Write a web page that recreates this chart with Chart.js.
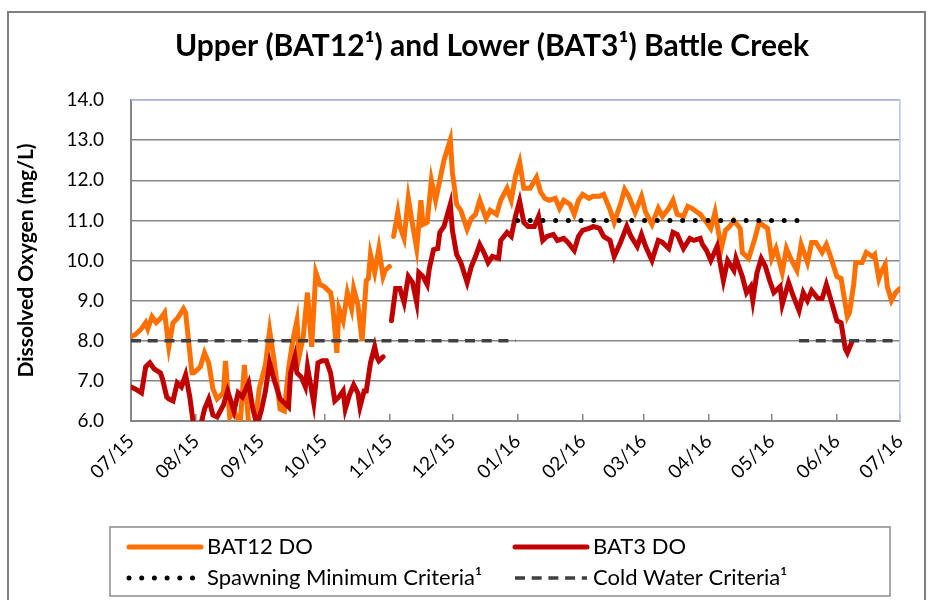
<!DOCTYPE html>
<html>
<head>
<meta charset="utf-8">
<script src="https://cdn.jsdelivr.net/npm/chart.js@4/dist/chart.umd.min.js"></script>
<style>
  html, body { margin: 0; padding: 0; background: #fff; }
</style>
</head>
<body>
<canvas id="doChart" width="932" height="600"></canvas>
<script>
// day numbers are counted from 07/01/2015
const monthDays = [0, 31, 62, 92, 123, 153, 184, 215, 244, 275, 305, 336, 366];
const monthLabels = ["07/15", "08/15", "09/15", "10/15", "11/15", "12/15", "01/16",
  "02/16", "03/16", "04/16", "05/16", "06/16", "07/16"];

const bat12Days = [
  0, 2, 5, 7, 8, 10, 12, 14, 16, 18,
  20, 22, 25, 26, 29, 30, 33, 35, 37, 39,
  41, 44, 45, 47, 49, 52, 54, 56, 59, 61,
  64, 66, 68, 71, 73, 75, 77, 79, 80, 82,
  84, 86, 88, 90, 92, 95, 96, 98, 99, 101,
  103, 105, 106, 108, 110, 112, 113, 114, 116, 118,
  120, 121, 123, 124, 125, 127, 128, 130, 132, 134,
  136, 138, 139, 141, 143, 145, 147, 149, 152, 153,
  155, 157, 160, 162, 164, 166, 169, 171, 174, 176,
  179, 181, 183, 185, 187, 190, 193, 195, 197, 199,
  202, 204, 206, 209, 211, 213, 215, 218, 220, 223,
  225, 228, 230, 233, 235, 237, 240, 243, 245, 248,
  251, 253, 256, 258, 260, 263, 265, 267, 271, 274,
  276, 278, 281, 283, 285, 287, 290, 291, 294, 297,
  299, 303, 305, 307, 310, 312, 314, 317, 319, 322,
  324, 326, 329, 331, 333, 336, 338, 341, 342, 344,
  345, 348, 350, 353, 354, 356, 357, 359, 360, 362,
  364, 366
];
const bat12Values = [
  8.1, 8.15, 8.3, 8.45, 8.3, 8.6, 8.45, 8.55, 8.7, 7.85,
  8.45, 8.55, 8.8, 8.7, 7.2, 7.2, 7.35, 7.7, 7.45, 6.8,
  6.55, 6.7, 7.5, 6.1, 6.25, 5.95, 7.4, 5.9, 5.9, 6.8,
  7.4, 8.25, 7.55, 6.3, 6.25, 7.3, 8.0, 8.5, 7.6, 8.1,
  9.2, 7.85, 9.7, 9.4, 9.35, 9.2, 8.9, 7.7, 8.8, 8.5,
  9.2, 8.8, 9.3, 8.9, 8.0, 9.5, 9.55, 10.15, 9.7, 10.3,
  9.6, 9.75, 9.85, null, 10.6, 11.2, 10.85, 10.55, 11.55, 10.9,
  10.3, 11.5, 10.9, 10.95, 12.0, 11.5, 12.0, 12.5, 13.0, 12.2,
  11.4, 11.25, 10.78, 11.05, 11.15, 11.5, 11.05, 11.25, 11.15, 11.5,
  11.8, 11.5, 12.1, 12.45, 11.8, 11.8, 12.07, 11.7, 11.55, 11.5,
  11.55, 11.3, 11.5, 11.4, 11.15, 11.5, 11.65, 11.55, 11.6, 11.6,
  11.65, 11.27, 10.95, 11.4, 11.77, 11.6, 11.2, 11.6, 11.2, 10.9,
  11.3, 11.1, 11.3, 11.5, 11.15, 11.1, 11.35, 11.3, 11.15, 10.95,
  10.8, 11.2, 10.3, 10.75, 10.85, 11.0, 10.8, 10.2, 10.05, 10.55,
  10.95, 10.8, 10.05, 10.3, 9.7, 10.3, 10.05, 9.75, 10.4, 9.95,
  10.45, 10.45, 10.2, 10.4, 10.1, 9.6, 9.55, 8.6, 8.7, 9.4,
  9.95, 9.95, 10.2, 10.1, 10.15, 9.55, 9.7, 9.9, 9.35, 9.0,
  9.2, 9.3
];

const bat3Days = [
  0, 2, 5, 7, 9, 11, 14, 15, 17, 18,
  20, 22, 24, 26, 28, 30, 33, 35, 37, 39,
  41, 44, 46, 49, 51, 53, 56, 58, 60, 62,
  64, 66, 68, 71, 73, 75, 76, 78, 79, 81,
  83, 84, 86, 87, 89, 91, 93, 95, 96, 97,
  99, 101, 102, 104, 106, 108, 109, 111, 112, 114,
  116, 117, 118, 120, 122, 124, 126, 128, 130, 132,
  134, 136, 137, 139, 141, 142, 144, 146, 147, 149,
  152, 153, 155, 157, 160, 162, 164, 166, 168, 170,
  172, 175, 176, 179, 181, 183, 185, 187, 189, 192,
  194, 196, 198, 201, 203, 206, 208, 211, 213, 215,
  218, 220, 223, 225, 228, 230, 233, 236, 238, 241,
  243, 245, 248, 251, 253, 256, 258, 260, 263, 266,
  268, 271, 272, 274, 276, 279, 282, 284, 287, 288,
  291, 293, 295, 296, 298, 300, 302, 304, 306, 309,
  310, 313, 315, 318, 320, 322, 324, 327, 329, 331,
  333, 336, 338, 340, 341, 343
];
const bat3Values = [
  6.85, 6.8, 6.7, 7.35, 7.45, 7.3, 7.2, 7.05, 6.6, 6.55,
  6.5, 6.95, 6.85, 7.15, 6.6, 5.8, 5.85, 6.3, 6.55, 6.15,
  6.1, 6.4, 6.75, 6.25, 6.7, 6.6, 6.95, 6.3, 5.9, 6.25,
  6.75, 7.45, 7.05, 6.55, 6.45, 6.35, 7.2, 7.6, 7.2, 7.1,
  6.85, 7.35, 6.75, 6.45, 7.45, 7.5, 7.5, 7.2, 6.85, 6.5,
  6.6, 6.75, 6.3, 6.65, 6.9, 6.7, 6.35, 6.75, 6.75, 7.45,
  7.85, 7.6, 7.5, 7.6, null, 8.5, 9.3, 9.3, 8.95, 9.6,
  9.45, 8.95, 9.7, 9.6, 9.4, 9.8, 10.27, 10.3, 10.7, 10.85,
  11.4, 10.75, 10.15, 9.95, 9.45, 9.85, 10.1, 10.4, 10.2, 9.95,
  10.1, 10.05, 10.5, 10.7, 10.6, 11.1, 11.48, 10.95, 10.85, 10.85,
  11.1, 10.5, 10.6, 10.65, 10.5, 10.55, 10.45, 10.25, 10.6, 10.75,
  10.8, 10.85, 10.8, 10.6, 10.5, 10.1, 10.45, 10.85, 10.6, 10.35,
  10.65, 10.35, 10.0, 10.5, 10.45, 10.3, 10.7, 10.65, 10.3, 10.55,
  10.5, 10.55, 10.4, 10.25, 10.0, 10.35, 9.5, 10.0, 9.75, 10.05,
  9.6, 9.2, 9.35, 9.0, 9.7, 10.05, 9.85, 9.5, 9.2, 9.35,
  8.9, 9.45, 9.15, 8.75, 9.2, 9.0, 9.25, 9.05, 9.05, 9.4,
  9.05, 8.5, 8.45, 7.8, 7.7, 7.95
];

// criteria lines
const spawnDays = [184, 318];
const spawnValues = [11, 11];
const coldDays = [0, 183, 184, 318, 363];
const coldValues = [8, 8, null, 8, 8];

const yTicks = [6, 7, 8, 9, 10, 11, 12, 13, 14];

function pairs(days, vals) {
  return days.map((d, i) => ({ x: d, y: vals[i] }));
}

const FONT = "Lato, 'Open Sans', sans-serif";
Chart.defaults.font.family = FONT;
Chart.defaults.color = '#000';

const GRID = '#868686';

const frame = {
  id: 'frame',
  beforeDraw(chart) {
    const c = chart.ctx;
    c.save();
    c.fillStyle = '#fff';
    c.fillRect(0, 0, chart.width, chart.height);
    c.strokeStyle = '#7f7f7f';
    c.lineWidth = 2;
    c.strokeRect(8, 12, 917, 620);
    c.restore();
  },
  beforeDatasetsDraw(chart) {
    // light blue plot area edge (top and right)
    const a = chart.chartArea, c = chart.ctx;
    c.save();
    c.strokeStyle = '#b4c6e7';
    c.lineWidth = 1.5;
    c.beginPath();
    c.moveTo(a.left, a.top);
    c.lineTo(a.right, a.top);
    c.lineTo(a.right, a.bottom);
    c.stroke();
    c.restore();
  },
  afterDraw(chart) {
    const c = chart.ctx;
    c.save();
    // title
    c.font = "bold 30px " + FONT;
    c.textAlign = 'center';
    c.textBaseline = 'middle';
    c.fillStyle = '#000';
    c.fillText('Upper (BAT12\u00b9) and Lower (BAT3\u00b9) Battle Creek', 492, 46);

    // legend
    c.strokeStyle = '#8c8c8c';
    c.lineWidth = 1.5;
    c.strokeRect(110, 527, 780, 69);
    c.font = "22px " + FONT;
    c.textAlign = 'left';
    chart.data.datasets.forEach((ds, i) => {
      const x0 = (i % 2) ? 513 : 127;
      const y = (i < 2) ? 547 : 578;
      c.save();
      c.strokeStyle = ds.borderColor;
      c.lineWidth = ds.borderWidth;
      c.lineCap = ds.borderCapStyle || 'butt';
      c.setLineDash(ds.borderDash || []);
      c.beginPath();
      c.moveTo(x0 + 2, y);
      c.lineTo(x0 + 74, y);
      c.stroke();
      c.restore();
      c.fillStyle = '#000';
      c.fillText(ds.label, x0 + 80, y);
    });
    c.restore();
  }
};

new Chart(document.getElementById('doChart'), {
  type: 'line',
  data: {
    datasets: [{
      label: 'BAT12 DO',
      data: pairs(bat12Days, bat12Values),
      borderColor: '#FF7000',
      borderWidth: 5,
      borderCapStyle: 'round',
      order: 4
    }, {
      label: 'BAT3 DO',
      data: pairs(bat3Days, bat3Values),
      borderColor: '#C00000',
      borderWidth: 5,
      borderCapStyle: 'round',
      order: 3
    }, {
      label: 'Spawning Minimum Criteria\u00b9',
      data: pairs(spawnDays, spawnValues),
      borderColor: '#000',
      borderWidth: 5,
      borderDash: [0, 12.7],
      borderCapStyle: 'round',
      order: 2
    }, {
      label: 'Cold Water Criteria\u00b9',
      data: pairs(coldDays, coldValues),
      borderColor: '#404040',
      borderWidth: 3.5,
      borderDash: [10, 6.7],
      order: 1
    }]
  },
  options: {
    responsive: false,
    animation: false,
    spanGaps: false,
    elements: { point: { radius: 0 }, line: { tension: 0 } },
    layout: { padding: { top: 100, right: 32, left: 0, bottom: 0 } },
    plugins: { legend: { display: false }, tooltip: { enabled: false } },
    scales: {
      x: {
        type: 'linear',
        min: monthDays[0],
        max: monthDays[monthDays.length - 1],
        afterBuildTicks: s => { s.ticks = monthDays.map(v => ({ value: v })); },
        afterFit: s => { s.height = 179; },
        ticks: {
          autoSkip: false,
          minRotation: 45,
          maxRotation: 45,
          padding: 16,
          font: { size: 19 },
          callback: (v, i) => monthLabels[i]
        },
        grid: { drawOnChartArea: false, tickLength: -7, color: GRID, lineWidth: 1.5 },
        border: { color: GRID, width: 2 }
      },
      y: {
        min: yTicks[0],
        max: yTicks[yTicks.length - 1],
        afterBuildTicks: s => { s.ticks = yTicks.map(v => ({ value: v })); },
        afterFit: s => { s.width = 131; },
        ticks: {
          padding: 27,
          font: { size: 19 },
          callback: v => v.toFixed(1)
        },
        grid: { drawTicks: false, color: GRID, lineWidth: 1.5 },
        border: { color: GRID, width: 2 },
        title: {
          display: true,
          text: 'Dissolved Oxygen (mg/L)',
          font: { size: 21, weight: 'bold' },
          padding: { top: 14, bottom: 0 }
        }
      }
    }
  },
  plugins: [frame]
});
</script>
</body>
</html>
